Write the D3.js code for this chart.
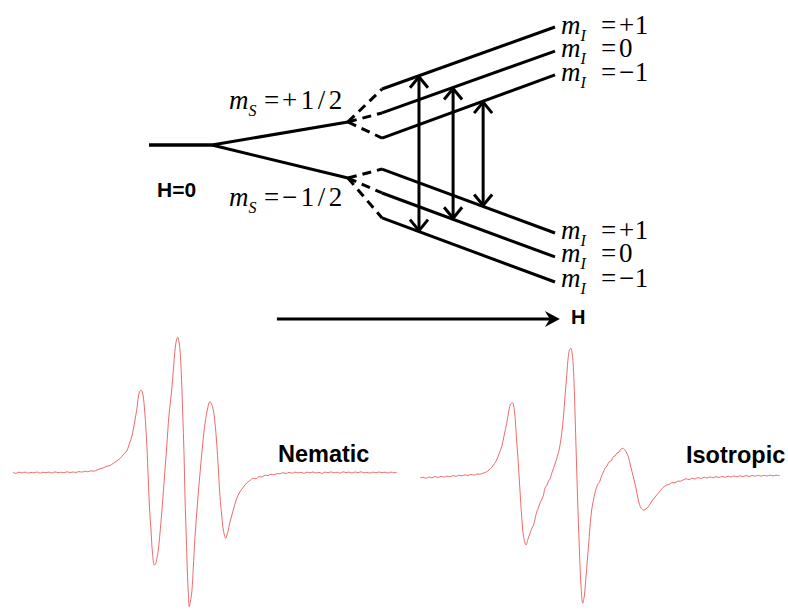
<!DOCTYPE html>
<meta charset="utf-8">
<head>
<script src="https://d3js.org/d3.v7.min.js"></script>
<style>
  body { margin: 0; background: #fff; }
</style>
</head>
<body>
<svg id="chart" width="788" height="611"></svg>
<script>

// ---- energy level diagram (field units 0..100, energy units -100..100) ----
var fieldStops = [0, 15.5, 49, 57.4, 100];   // H=0 start, split, ms node, hyperfine start, end
var msNames = ["+1/2", "\u22121/2"];
var msNode = [15.9, -22.8];
var miNames = ["+1", "0", "\u22121"];
var upperStart = [38.6, 22.1, 4.8];
var upperEnd = [81.4, 64.8, 48.3];
var lowerStart = [-16.6, -33.1, -50.3];
var lowerEnd = [-60.7, -77.2, -94.5];
// transitions: field position, upper level index, lower level index
var transField = [66.5, 74.9, 82.3];
var transUp = [0, 1, 2];
var transLow = [2, 1, 0];
var sweepStart = 31.5, sweepEnd = 101.2;

// ---- EPR spectra (field in px-units, signal up positive) ----
var nemField = [13,16,19,22,25,28,31,34,37,40,43,46,49,52,55,58,61,64,67,70,73,76,79,82,85,88,91,94,97,100,103,106,110,113,116,120,123,126.7,129,131.7,133.5,135,137,138.3,139.5,141,142.3,143.3,144.7,146,147,148.3,149.5,151,152.5,154.3,155.5,157,158.3,160,161.7,164,166.7,169,171.7,173.5,175,176.5,177.7,179,180,181.5,182.7,184,185,186.3,187.3,188.3,189.3,190.5,191.7,193.3,195,197.5,200,202.5,205,207.5,209,210,211.5,213.3,215,216.7,218.3,220,221.7,223.3,225.7,227,228.3,230.5,233.3,236.5,240,243.5,246.7,250,253,256,259,262,265,268,271,274,277,280,283,286,289,292,295,298,301,304,307,310,313,316,319,322,325,328,331,334,337,340,343,346,349,352,355,358,361,364,367,370,373,376,379,382,385,388,391,394,397];
var nemSignal = [0.5,-0.3,0.8,0.1,0.9,-0.2,0.6,0.2,1.0,-0.1,0.7,0.3,0.9,0.0,1.1,0.4,0.8,0.2,1.2,0.5,1.0,0.6,1.4,0.9,1.8,1.2,2.2,1.8,3.0,4.2,5.0,6.5,7.5,9.5,11.5,14.5,18,22,28,36,45,53,65,76,81,83,81,76,62,43,25,-7,-35,-57,-80,-92,-91,-85,-77,-60,-40,-10,26,58,83,105,123,133,135.7,131,123,95,60,20,-24,-65,-97,-120,-133.7,-128,-120,-95,-63.7,-30,-0.3,27,49.7,64,70,71.3,69,63,50,29.7,5,-23.7,-42,-57,-65.3,-62,-57,-47,-37,-26,-18.7,-14,-10,-7.5,-5.2,-5.8,-3.6,-4.0,-2.2,-2.6,-1.2,-1.8,-0.6,-0.8,0.3,-0.5,0.6,-0.2,0.9,0.1,0.7,-0.3,0.8,0.2,1.0,0.0,0.6,-0.4,0.9,0.3,1.1,0.2,0.8,-0.2,1.2,0.4,0.9,0.0,1.0,0.3,1.2,0.1,0.7,-0.1,0.9,0.2,1.0,0.4,0.8,0.0,0.9,0.3,0.6];

var isoField = [420,423,426,429,432,435,438,441,444,447,450,453,456,459,462,465,468,471,474,477,480,483,486.7,489,492,494.5,496.7,499,501.7,504,506.7,509,510.7,512.7,514,515,516.7,518.3,520,521.7,523.5,526,528,530,532,533.5,535,536.7,538,540,542,543.5,545,547,548.5,550,551.7,555,557.3,559.5,561.7,563.5,565,566.7,568.3,569.5,571,572.3,573.3,574.5,576,577.5,579.3,581,582.7,584.3,586,588.5,591.7,595,597,598.3,600,601.5,603,605,607,609,611,613.3,615,617,619,620,622.7,625,628.3,630.5,633.3,636,638.3,641,643.3,646,648.3,652,656.7,661,663,666.7,669,672,675,678,680,683,686,689,692,695,698,701,704,707,710,713,716,719,722,725,728,731,734,737,740,743,746,749,752,755,758,761,764,767,770,773,776,780];
var isoSignal = [-2.0,-1.2,-2.3,-1.0,-1.8,-0.6,-1.5,-0.4,-1.2,0.0,-0.8,0.5,-0.3,0.8,0.2,1.2,0.5,1.5,0.8,2.0,1.8,2.8,4.3,6,9,12.5,16,22,29.3,40,52.7,66,72,73.3,68,59.3,35,12.7,-15,-40.7,-60,-69,-63,-57.3,-52,-49,-43,-36,-33,-27,-23,-19,-12,-9,-5,-3,2.7,12,19.3,28,42.7,60,79.3,100,119.3,126,127.7,121,109.3,80,29.3,-20,-70.7,-110,-127.3,-120,-100.7,-70,-34,-17,-10,-7.3,-5,0,3,7.7,10,14,15,19.3,20,23,24,26,27.7,26,19.3,10,-0.7,-12,-24,-32,-34,-33,-30.7,-25,-19,-14,-11.5,-9,-8.6,-6.5,-6.8,-5,-5.3,-4,-2.8,-3.6,-2.2,-3.0,-1.6,-2.5,-1.2,-2.0,-0.9,-1.8,-0.6,-1.5,-0.4,-1.3,-0.2,-1.0,0.1,-0.9,0.3,-0.6,0.5,-0.5,0.6,-0.3,0.8,-0.2,0.7,0.0,0.9,0.1,0.8,0.2];

var spectrumNames = ["Nematic", "Isotropic"];

function drawChart() {
	var svg = d3.select("#chart");

	var x = d3.scaleLinear().domain([0, 100]).range([149, 555]);
	var y = d3.scaleLinear().domain([-100, 100]).range([290, 0]);

	var g = svg.append("g");
	var black = "#000";

	function levelAt(f, start, end) {
		var t = (f - fieldStops[3]) / (fieldStops[4] - fieldStops[3]);
		return start + (end - start) * t;
	}

	// H=0 line and the two ms branches
	g.append("line")
		.attr("x1", x(fieldStops[0])).attr("x2", x(fieldStops[1]))
		.attr("y1", y(0)).attr("y2", y(0))
		.attr("stroke", black).attr("stroke-width", 3.5);

	g.selectAll(".ms").data(msNode).enter().append("line")
		.attr("x1", x(fieldStops[1])).attr("y1", y(0))
		.attr("x2", x(fieldStops[2])).attr("y2", function(d) { return y(d); })
		.attr("stroke", black).attr("stroke-width", 3);

	// dashed connectors + hyperfine levels
	var starts = [upperStart, lowerStart];
	var ends = [upperEnd, lowerEnd];
	for (var s = 0; s < 2; s++) {
		for (var k = 0; k < 3; k++) {
			g.append("line")
				.attr("x1", x(fieldStops[2])).attr("y1", y(msNode[s]))
				.attr("x2", x(fieldStops[3])).attr("y2", y(starts[s][k]))
				.attr("stroke", black).attr("stroke-width", 3)
				.attr("stroke-dasharray", "9,6");
			g.append("line")
				.attr("x1", x(fieldStops[3])).attr("y1", y(starts[s][k]))
				.attr("x2", x(fieldStops[4])).attr("y2", y(ends[s][k]))
				.attr("stroke", black).attr("stroke-width", 3);
		}
	}

	// transition arrows (double headed, open heads)
	transField.forEach(function(f, i) {
		var top = y(levelAt(f, upperStart[transUp[i]], upperEnd[transUp[i]]));
		var bot = y(levelAt(f, lowerStart[transLow[i]], lowerEnd[transLow[i]]));
		var cx = x(f);
		g.append("line").attr("x1", cx).attr("x2", cx)
			.attr("y1", top + 1).attr("y2", bot - 1)
			.attr("stroke", black).attr("stroke-width", 3);
		g.append("path")
			.attr("d", "M" + (cx - 9) + "," + (top + 12) + "L" + cx + "," + (top + 1) + "L" + (cx + 9) + "," + (top + 12))
			.attr("fill", "none").attr("stroke", black).attr("stroke-width", 3);
		g.append("path")
			.attr("d", "M" + (cx - 9) + "," + (bot - 12) + "L" + cx + "," + (bot - 1) + "L" + (cx + 9) + "," + (bot - 12))
			.attr("fill", "none").attr("stroke", black).attr("stroke-width", 3);
	});

	// math labels: one text, parts as tspans
	var serif = "'Liberation Serif', 'Times New Roman', serif";
	function mathLabel(px, py, sub, value, eqDx, valDx, spacing) {
		var t = g.append("text").attr("x", px).attr("y", py)
			.attr("font-family", serif).attr("font-size", 27);
		t.append("tspan").attr("font-style", "italic").text("m");
		t.append("tspan").attr("x", px + 19.5).attr("y", py + 7)
			.attr("font-style", "italic").attr("font-size", 16).text(sub);
		t.append("tspan").attr("x", px + eqDx).attr("y", py).text("=");
		t.append("tspan").attr("x", px + valDx).attr("y", py)
			.attr("letter-spacing", spacing).text(value);
	}
	mathLabel(229, 108.5, "S", msNames[0], 35, 53, 3.5);
	mathLabel(229, 206, "S", msNames[1], 35, 53, 3.5);

	var upBase = [34, 57, 80.5];
	var lowBase = [239, 262, 287];
	miNames.forEach(function(n, i) {
		mathLabel(561, upBase[i], "I", n, 40, 58, 0.5);
		mathLabel(561, lowBase[i], "I", n, 40, 58, 0.5);
	});

	var sans = "'Liberation Sans', Arial, sans-serif";
	g.append("text").attr("x", 157).attr("y", 197)
		.attr("font-family", sans).attr("font-weight", "bold").attr("font-size", 21)
		.text("H=0");

	// field sweep arrow
	var hy = 319;
	g.append("line").attr("x1", x(sweepStart)).attr("x2", x(sweepEnd) - 8)
		.attr("y1", hy).attr("y2", hy)
		.attr("stroke", black).attr("stroke-width", 3);
	var tip = x(sweepEnd);
	g.append("path")
		.attr("d", "M" + tip + "," + hy + "L" + (tip - 15) + "," + (hy - 8) + "L" + (tip - 10) + "," + hy + "L" + (tip - 15) + "," + (hy + 8) + "Z")
		.attr("fill", black);
	g.append("text").attr("x", 571).attr("y", 324)
		.attr("font-family", sans).attr("font-weight", "bold").attr("font-size", 20)
		.text("H");

	// ---- spectra ----
	var red = "#ef6a6a";
	var xs = d3.scaleLinear().domain([0, 788]).range([0, 788]);
	var yNem = d3.scaleLinear().domain([-140, 140]).range([613, 333]);
	var yIso = d3.scaleLinear().domain([-140, 140]).range([616, 336]);

	var nemData = nemField.map(function(f, i) { return [f, nemSignal[i]]; });
	var isoData = isoField.map(function(f, i) { return [f, isoSignal[i]]; });

	var lineNem = d3.line().x(function(d) { return xs(d[0]); }).y(function(d) { return yNem(d[1]); })
		.curve(d3.curveCatmullRom);
	var lineIso = d3.line().x(function(d) { return xs(d[0]); }).y(function(d) { return yIso(d[1]); })
		.curve(d3.curveCatmullRom);

	svg.append("path").datum(nemData).attr("d", lineNem)
		.attr("fill", "none").attr("stroke", red).attr("stroke-width", 1);
	svg.append("path").datum(isoData).attr("d", lineIso)
		.attr("fill", "none").attr("stroke", red).attr("stroke-width", 1);

	svg.append("text").attr("x", 278).attr("y", 462)
		.attr("font-family", sans).attr("font-weight", "bold").attr("font-size", 23.5)
		.text(spectrumNames[0]);
	svg.append("text").attr("x", 686).attr("y", 463)
		.attr("font-family", sans).attr("font-weight", "bold").attr("font-size", 23.5)
		.text(spectrumNames[1]);
}

drawChart();
</script>
</body>
